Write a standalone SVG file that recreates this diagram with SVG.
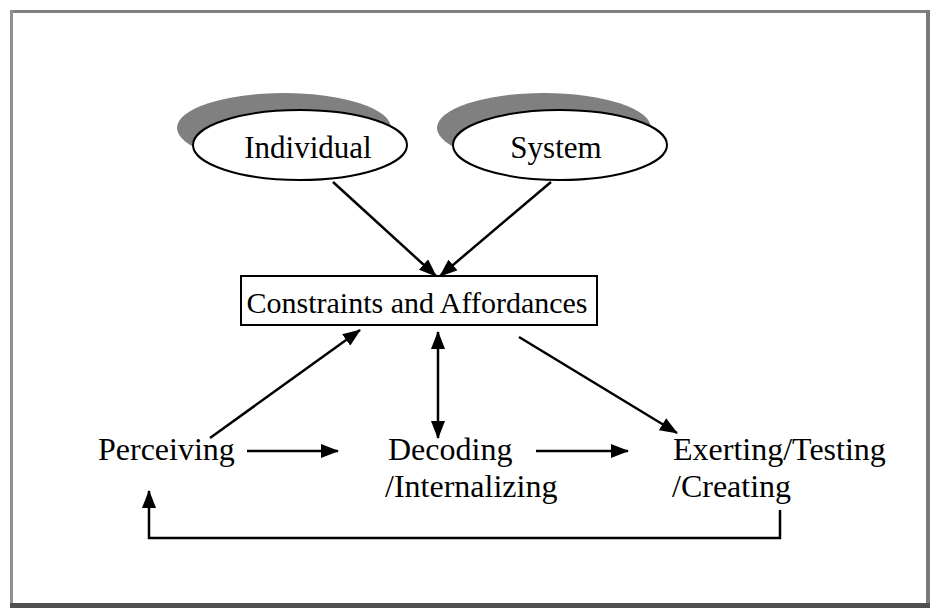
<svg xmlns="http://www.w3.org/2000/svg" width="930" height="608" viewBox="0 0 930 608">
  <defs>
    <marker id="head" markerWidth="18" markerHeight="14" refX="17" refY="7" orient="auto-start-reverse" markerUnits="userSpaceOnUse">
      <path d="M0,0 L18,7 L0,14 Z" fill="#000"/>
    </marker>
  </defs>
  <style>
    text { font-family: "Liberation Serif", "Times New Roman", serif; fill: #000; }
    .lbl { font-size: 32px; }
    .big { font-size: 31px; }
    .box { font-size: 30px; }
    .edge { fill: none; stroke: #000; stroke-width: 2.5; }
    .shadow { fill: #808080; }
    .oval { fill: #fff; stroke: #000; stroke-width: 2; }
  </style>

  <!-- page frame -->
  <rect x="0" y="0" width="930" height="608" fill="#fff"/>
  <rect x="10" y="10" width="918" height="3" fill="#808080"/>
  <rect x="10" y="10" width="3" height="596" fill="#909090"/>
  <rect x="926" y="10" width="4" height="598" fill="#7a7a7a"/>
  <rect x="10" y="603" width="920" height="5" fill="#505050"/>

  <g id="individual">
    <ellipse class="shadow" cx="284" cy="128" rx="107" ry="35"/>
    <ellipse class="oval" cx="300" cy="145" rx="107" ry="35"/>
    <text class="big" x="308" y="158" text-anchor="middle">Individual</text>
  </g>

  <g id="system">
    <ellipse class="shadow" cx="544" cy="128" rx="107" ry="35"/>
    <ellipse class="oval" cx="560" cy="145" rx="107" ry="35"/>
    <text class="big" x="556" y="158" text-anchor="middle">System</text>
  </g>

  <g id="constraints">
    <rect x="241" y="276" width="356" height="49" fill="#fff" stroke="#000" stroke-width="2"/>
    <text class="box" x="417" y="313" text-anchor="middle">Constraints and Affordances</text>
  </g>

  <g id="perceiving">
    <text class="lbl" x="98" y="460">Perceiving</text>
  </g>

  <g id="decoding">
    <text class="lbl" x="388" y="460">Decoding</text>
    <text class="lbl" x="385" y="497">/Internalizing</text>
  </g>

  <g id="exerting">
    <text class="lbl" x="673" y="460">Exerting/Testing</text>
    <text class="lbl" x="672" y="497">/Creating</text>
  </g>

  <g id="connectors">
    <line class="edge" x1="333" y1="182" x2="436" y2="276" marker-end="url(#head)"/>
    <line class="edge" x1="551" y1="182" x2="440" y2="276" marker-end="url(#head)"/>
    <line class="edge" x1="210" y1="438" x2="360" y2="330" marker-end="url(#head)"/>
    <line class="edge" x1="438" y1="332" x2="438" y2="438" marker-start="url(#head)" marker-end="url(#head)"/>
    <line class="edge" x1="519" y1="337" x2="677" y2="433" marker-end="url(#head)"/>
    <line class="edge" x1="247" y1="451" x2="338" y2="451" marker-end="url(#head)"/>
    <line class="edge" x1="536" y1="451" x2="628" y2="451" marker-end="url(#head)"/>
    <polyline class="edge" points="780,510 780,538 149,538 149,491" marker-end="url(#head)"/>
  </g>
</svg>
